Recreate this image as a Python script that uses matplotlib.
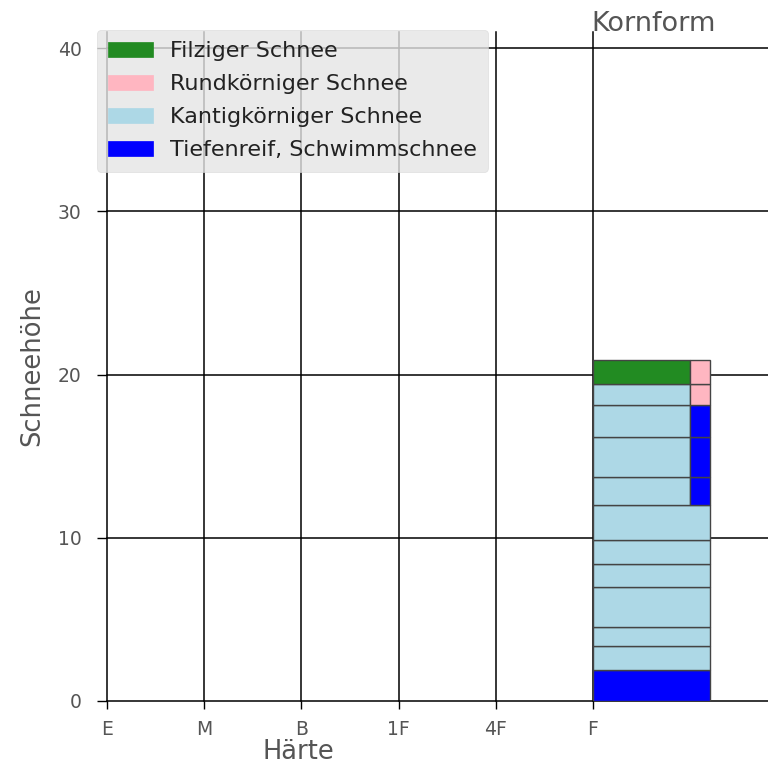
import matplotlib.pyplot as plt
from matplotlib.patches import Patch

plt.style.use('ggplot')

haerte = ['E', 'M', 'B', '1F', '4F', 'F']

# layers: bottom, top, main grain form, secondary grain form (None = none)
bottoms = [0.0, 1.9, 3.4, 4.55, 7.0, 8.4, 9.85, 12.0, 13.7, 16.2, 18.15, 19.4]
tops = [1.9, 3.4, 4.55, 7.0, 8.4, 9.85, 12.0, 13.7, 16.2, 18.15, 19.4, 20.9]
form1 = ['tief', 'kant', 'kant', 'kant', 'kant', 'kant', 'kant',
         'kant', 'kant', 'kant', 'kant', 'filz']
form2 = [None, None, None, None, None, None, None,
         'tief', 'tief', 'tief', 'rund', 'rund']
layer_haerte = [5] * 12

farben = {'filz': 'forestgreen', 'rund': 'lightpink',
          'kant': 'lightblue', 'tief': 'blue'}
namen = {'filz': 'Filziger Schnee', 'rund': 'Rundkörniger Schnee',
         'kant': 'Kantigkörniger Schnee', 'tief': 'Tiefenreif, Schwimmschnee'}

fig = plt.figure(figsize=(7.68, 7.66), dpi=100)
ax = fig.add_axes([107/768, 1-701/766, 1-107/768, (701-32)/766])
ax.set_facecolor('white')

for b, t, f1, f2, h in zip(bottoms, tops, form1, form2, layer_haerte):
    w = 1.2 if f2 is None else 1.0
    ax.bar(h, t - b, bottom=b, width=w, align='edge', color=farben[f1],
           edgecolor='#444444', linewidth=1, zorder=3)
    if f2 is not None:
        ax.bar(h + 1.0, t - b, bottom=b, width=0.2, align='edge',
               color=farben[f2], edgecolor='#444444', linewidth=1, zorder=3)

ax.set_xlim(0, 6.8)
ax.set_ylim(0, 41)
ax.set_xticks(range(len(haerte)))
ax.set_xticklabels(haerte)
ax.set_yticks([0, 10, 20, 30, 40])
ax.grid(True, color='black', linewidth=1.1)
for gl in ax.get_xgridlines() + ax.get_ygridlines():
    gl.set_clip_on(False)
ax.tick_params(labelsize=13.5, labelcolor='#555555', color='black', width=1)
ax.tick_params(axis='x', length=5.5, pad=8)
ax.tick_params(axis='y', length=7.2, pad=11)
for s in ax.spines.values():
    s.set_visible(False)

ax.set_xlabel('Härte', fontsize=18.5, color='#555555')
ax.xaxis.set_label_coords(1.97/6.8, -0.057)
ax.set_ylabel('Schneehöhe', fontsize=18.5, color='#555555')
ax.yaxis.set_label_coords(-0.094, 0.5)
ax.text(4.98, 41.05, 'Kornform', fontsize=19.5, color='#555555', va='baseline')

handles = [Patch(color=farben[k], label=namen[k]) for k in ['filz', 'rund', 'kant', 'tief']]
leg = ax.legend(handles=handles, loc='upper left', fontsize=16,
                bbox_to_anchor=(97/768, 1-30/766), bbox_transform=fig.transFigure,
                borderaxespad=0, facecolor='#E5E5E5', edgecolor='0.85',
                framealpha=0.8, labelspacing=0.59, borderpad=0.5)
for txt in leg.get_texts():
    txt.set_color('#222222')

fig.savefig('out.png', dpi=100)
